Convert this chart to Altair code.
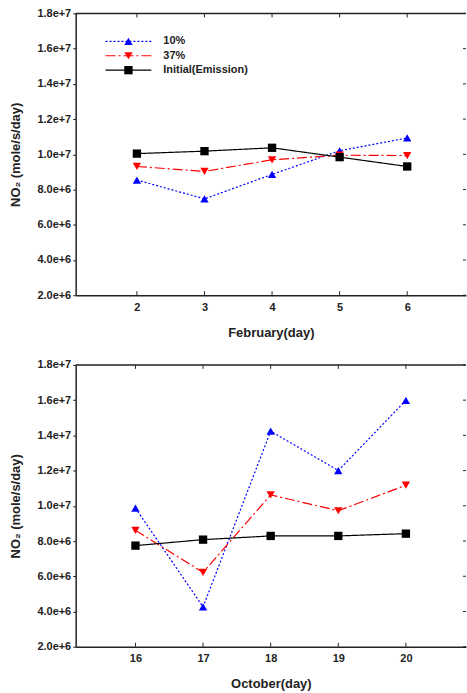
import altair as alt
import pandas as pd

# ---- data ----
series = ["10%", "37%", "Initial(Emission)"]
feb_days = [2, 3, 4, 5, 6]
feb_10 = [8.54e6, 7.47e6, 8.86e6, 10.20e6, 10.93e6]
feb_37 = [9.31e6, 9.03e6, 9.69e6, 9.95e6, 9.93e6]
feb_init = [10.04e6, 10.18e6, 10.37e6, 9.84e6, 9.31e6]

oct_days = [16, 17, 18, 19, 20]
oct_10 = [9.87e6, 4.26e6, 14.24e6, 12.00e6, 15.99e6]
oct_37 = [8.61e6, 6.22e6, 10.62e6, 9.72e6, 11.17e6]
oct_init = [7.74e6, 8.08e6, 8.29e6, 8.29e6, 8.42e6]

y_ticks = [2e6, 4e6, 6e6, 8e6, 10e6, 12e6, 14e6, 16e6, 18e6]

# ---- styles ----
colors = ["#0000ff", "#ff0000", "#000000"]
shapes = ["triangle-up", "triangle-down", "square"]
dashes = [[2, 2], [10, 3, 2, 3], [1, 0]]
FONT = "Liberation Sans"
AX = "#222222"
W, H = 392, 283


def panel(days, vals, xtitle, xdom, legend):
    rows = []
    for s, v in zip(series, vals):
        for d, y in zip(days, v):
            rows.append({"day": d, "val": y, "series": s})
    df = pd.DataFrame(rows)

    xscale = alt.Scale(domain=xdom, nice=False, zero=False)
    yscale = alt.Scale(domain=[2e6, 1.8e7], nice=False, zero=False)
    xaxis = alt.Axis(values=days, format="d", title=xtitle, tickSize=0, labelPadding=6,
                     titlePadding=14, domain=True, labelOverlap=False)
    yaxis = alt.Axis(values=y_ticks, format=".1e", title="NO₂ (mole/s/day)",
                     tickSize=3, labelPadding=2, titlePadding=14, domain=True,
                     labelOverlap=False, labelBound=False)

    def X():
        return alt.X("day:Q", scale=xscale, axis=xaxis)

    def Y():
        return alt.Y("val:Q", scale=yscale, axis=yaxis)

    col = alt.Color("series:N", scale=alt.Scale(domain=series, range=colors), legend=None)

    line = alt.Chart(df).mark_line(strokeWidth=1.2).encode(
        x=X(), y=Y(), color=col,
        strokeDash=alt.StrokeDash("series:N", scale=alt.Scale(domain=series, range=dashes), legend=None),
        order=alt.Order("day:Q"),
    )
    pts = alt.Chart(df).mark_point(filled=True, size=70, opacity=1).encode(
        x=X(), y=Y(), color=col,
        shape=alt.Shape("series:N", scale=alt.Scale(domain=series, range=shapes), legend=None),
    )
    # top border line
    top = alt.Chart(pd.DataFrame({"day": [xdom[0]]})).mark_rule(color=AX, strokeWidth=1.5).encode(
        x=alt.value(0), x2=alt.value(W), y=alt.value(0))
    # inward ticks at bottom and top
    tdf = pd.DataFrame({"day": days})
    tb = alt.Chart(tdf).mark_rule(color=AX, strokeWidth=1).encode(
        x=X(), y=alt.value(H), y2=alt.value(H - 4))
    tt = alt.Chart(tdf).mark_rule(color=AX, strokeWidth=1).encode(
        x=X(), y=alt.value(0), y2=alt.value(4))
    ydf = pd.DataFrame({"val": y_ticks})
    tr = alt.Chart(ydf).mark_rule(color=AX, strokeWidth=1).encode(
        y=Y(), x=alt.value(W - 3), x2=alt.value(W))

    layers = [line, top, tb, tt, tr, pts]
    if legend:
        for i, s in enumerate(series):
            ld = pd.DataFrame({"label": [s]})
            yy = 28 + i * 14.5
            layers.append(alt.Chart(ld).mark_rule(color=colors[i], strokeWidth=1.2,
                                                  strokeDash=dashes[i]).encode(
                x=alt.value(30), x2=alt.value(76), y=alt.value(yy)))
            layers.append(alt.Chart(ld).mark_point(filled=True, size=70, opacity=1,
                                                   color=colors[i], shape=shapes[i]).encode(
                x=alt.value(53), y=alt.value(yy)))
            layers.append(alt.Chart(ld).mark_text(align="left", baseline="middle", font=FONT,
                                                  fontSize=11, fontWeight="bold", color="#222").encode(
                x=alt.value(88), y=alt.value(yy), text="label:N"))
    return alt.layer(*layers).properties(width=W, height=H)


p1 = panel(feb_days, [feb_10, feb_37, feb_init], "February(day)", [1.094, 6.87], True)
p2 = panel(oct_days, [oct_10, oct_37, oct_init], "October(day)", [15.116, 20.889], False)

chart = alt.vconcat(p1, p2, spacing=20).properties(
    padding={"left": 10, "top": 6, "right": 0, "bottom": 0},
    background="white",
).configure_view(stroke=None).configure_axis(
    labelFont=FONT, labelFontSize=11, labelFontWeight="bold", labelColor="#222",
    titleFont=FONT, titleFontSize=13, titleFontWeight="bold", titleColor="#222",
    domainColor=AX, domainWidth=1.5, tickColor=AX, grid=False, labelOverlap=False,
)

chart.save("out.html", embed_options={"renderer": "svg", "actions": False})
